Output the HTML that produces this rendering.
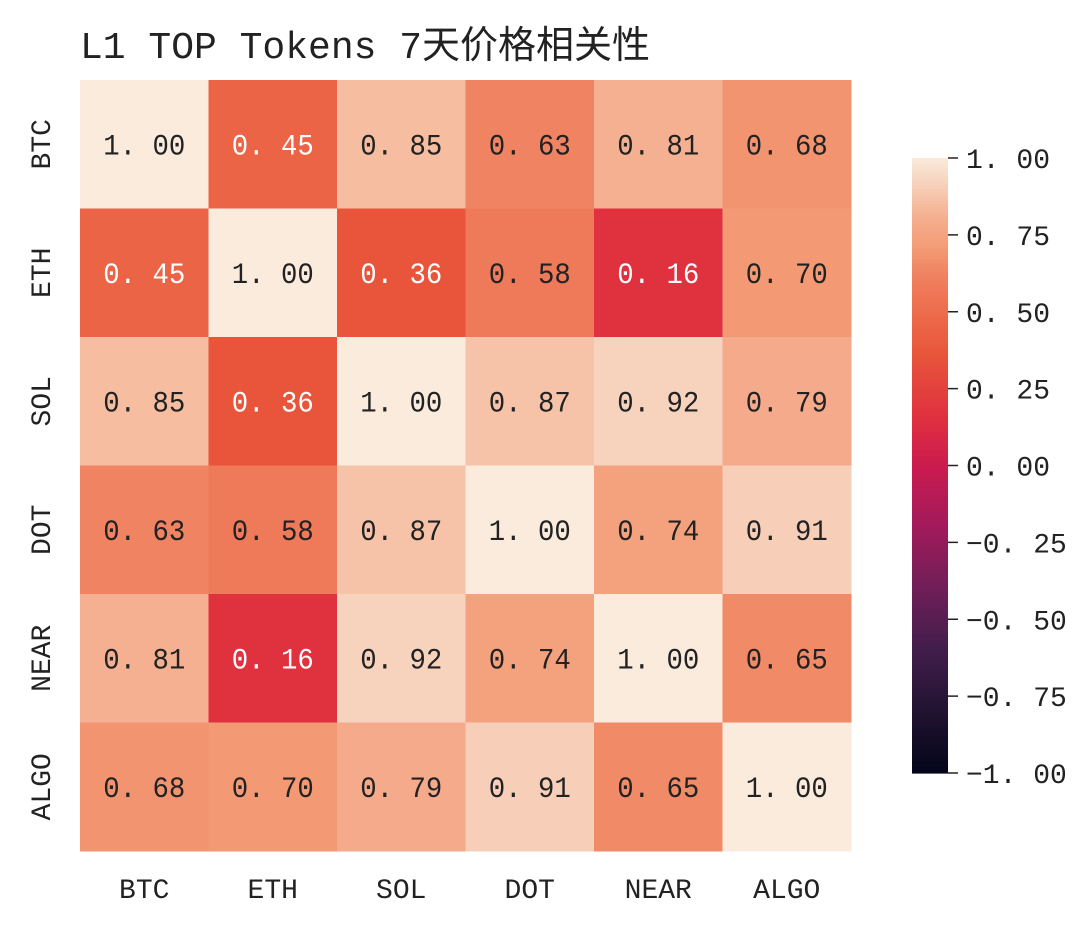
<!DOCTYPE html>
<html><head><meta charset="utf-8"><style>
body{margin:0;background:#fff;}
svg{display:block;font-family:"Liberation Mono","Noto Sans CJK SC",monospace;}
</style></head><body>
<svg id="chart" width="1080" height="931">
<text x="80" y="58" font-size="38" fill="#222" font-family="Liberation Mono, Noto Sans CJK SC, monospace">L1 TOP Tokens 7天价格相关性</text>
<g id="cells"></g><g id="labels"></g><g id="cbar"></g>
</svg>
<script>
const tokens=["BTC","ETH","SOL","DOT","NEAR","ALGO"];
const values=[
[1.00,0.45,0.85,0.63,0.81,0.68],
[0.45,1.00,0.36,0.58,0.16,0.70],
[0.85,0.36,1.00,0.87,0.92,0.79],
[0.63,0.58,0.87,1.00,0.74,0.91],
[0.81,0.16,0.92,0.74,1.00,0.65],
[0.68,0.70,0.79,0.91,0.65,1.00]];
const cbarTicks=[1.00,0.75,0.50,0.25,0.00,-0.25,-0.50,-0.75,-1.00];
const stops=[[0,"#03051a"],[0.1,"#221331"],[0.2,"#411d4b"],[0.3,"#6f1f57"],[0.4,"#a11a5b"],[0.5,"#cb1b4f"],[0.58,"#e0313f"],[0.68,"#e8553b"],[0.725,"#eb6445"],[0.79,"#ef7a5a"],[0.815,"#f08462"],[0.85,"#f39a74"],[0.9,"#f5ad8d"],[0.935,"#f6c3a8"],[0.96,"#f7d2bd"],[1,"#faebdd"]];
function hex(h){return [1,3,5].map(i=>parseInt(h.substr(i,2),16));}
function color(v){const t=(v+1)/2;for(let i=1;i<stops.length;i++){if(t<=stops[i][0]){const a=stops[i-1],b=stops[i];const f=(t-a[0])/(b[0]-a[0]);const ca=hex(a[1]),cb=hex(b[1]);return "rgb("+ca.map((c,k)=>Math.round(c+(cb[k]-c)*f)).join(",")+")";}}return stops[stops.length-1][1];}
const NS="http://www.w3.org/2000/svg";
const x0=80,y0=80,cw=128.5;
const xPos=i=>x0+i*cw, yPos=j=>y0+j*cw;
const cells=document.getElementById("cells"),labels=document.getElementById("labels"),cb=document.getElementById("cbar");
function mk(tag,attrs,parent,text){const e=document.createElementNS(NS,tag);for(const k in attrs)e.setAttribute(k,attrs[k]);if(text!==undefined)e.textContent=text;parent.appendChild(e);return e;}
values.forEach((row,j)=>row.forEach((v,i)=>{
 const r=mk("rect",{x:xPos(i),y:yPos(j),width:cw+0.5,height:cw+0.5,fill:color(v)},cells);
 
 
 const t=mk("text",{x:xPos(i)+cw/2,y:yPos(j)+cw/2+10,"text-anchor":"middle","font-size":"30",fill:v<0.5?"#fff":"#222",textLength:"82",lengthAdjust:"spacingAndGlyphs"},cells,v.toFixed(2).replace(".",". "));
 
 
}));
tokens.forEach((tk,i)=>{
 const t=mk("text",{x:xPos(i)+cw/2,y:898,"text-anchor":"middle","font-size":"28",fill:"#222"},labels,tk);
 
 
 const cy=yPos(i)+cw/2;
 const u=mk("text",{x:50,y:cy,"text-anchor":"middle","font-size":"28",fill:"#222",transform:"rotate(-90 50 "+cy+")"},labels,tk);
 
 
});
const cbx=912,cbw=36,cbTop=158,cbBot=773;
const cbY=v=>cbTop+(1-v)/2*(cbBot-cbTop);
for(let k=0;k<200;k++){const v=1-2*k/200;mk("rect",{x:cbx,y:cbY(v),width:cbw,height:(cbBot-cbTop)/200+0.6,fill:color(v-0.005)},cb);}
cbarTicks.forEach(v=>{
 mk("line",{x1:cbx+cbw,x2:cbx+cbw+10,y1:cbY(v),y2:cbY(v),stroke:"#222","stroke-width":1.5},cb);
 const t=mk("text",{x:cbx+cbw+18,y:cbY(v)+10,"font-size":"28",fill:"#222"},cb,(v<0?"\u2212":"")+Math.abs(v).toFixed(2).replace(".",". "));
 
 
});
</script>
</body></html>
